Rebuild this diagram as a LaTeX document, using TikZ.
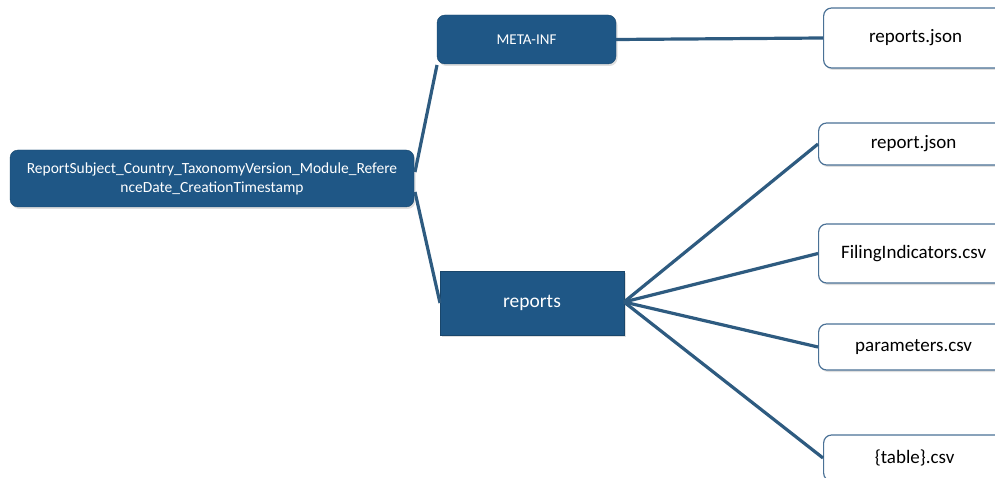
\documentclass[tikz,border=0pt]{standalone}
\usepackage{fontspec}
\setmainfont{Carlito}
\usetikzlibrary{shadows}
\definecolor{boxblue}{HTML}{1F5786}
\definecolor{edgeblue}{HTML}{2E5B80}
\definecolor{outline}{HTML}{4A7196}
\begin{document}
\begin{tikzpicture}[x=1pt,y=-1pt,
  darkbox/.style={fill=boxblue,draw=boxblue!80!black,line width=0.4pt,text=white,inner sep=0pt,
    drop shadow={shadow xshift=1.5pt,shadow yshift=-2pt,opacity=0.25}},
  filebox/.style={fill=white,draw=outline,line width=1.2pt,rounded corners=8pt,inner sep=0pt,
    minimum width=190pt,anchor=west,font=\fontsize{19}{22}\selectfont,
    drop shadow={shadow xshift=1.5pt,shadow yshift=-2pt,opacity=0.25}},
  link/.style={draw=edgeblue,line width=3.2pt}]
\useasboundingbox (0,0) rectangle (995,478);
\clip (0,0) rectangle (995,478);
% dark boxes
\node[darkbox,rounded corners=8pt,minimum width=404pt,minimum height=57pt,align=center,
  font=\fontsize{15.5}{19}\selectfont] (root) at (212,178.5)
  {ReportSubject\_Country\_TaxonomyVersion\_Module\_Refere\\nceDate\_CreationTimestamp};
\node[darkbox,rounded corners=8pt,minimum width=179pt,minimum height=49pt,
  font=\fontsize{15}{17}\selectfont] (meta) at (526.5,39.5) {META-INF};
\node[darkbox,minimum width=184pt,minimum height=64pt,
  font=\fontsize{19.5}{22}\selectfont] (reports) at (532,303) {reports};
% file boxes (extend past right edge)
\node[filebox,minimum height=60pt] (rj) at (823,38) {\hspace*{-6pt}reports.json};
\node[filebox,minimum height=42pt] (rpj) at (818,144) {report.json};
\node[filebox,minimum height=59pt] (fi) at (818,253.5) {FilingIndicators.csv};
\node[filebox,minimum height=46pt] (par) at (818,347) {parameters.csv};
\node[filebox,minimum height=46pt] (tab) at (823,458) {\hspace*{-8pt}\{table\}.csv};
% connectors
\coordinate (rootA) at (415,172);
\coordinate (rootB) at (415,192);
\coordinate (metaBL) at (437,65);
\coordinate (repL) at (440,303);
\coordinate (repR) at (624,302);
\draw[link] (rootA) -- (metaBL);
\draw[link] (rootB) -- (repL);
\draw[link] (meta.east) -- (rj.west);
\draw[link] (repR) -- (rpj.west);
\draw[link] (repR) -- (fi.west);
\draw[link] (repR) -- (par.west);
\draw[link] (repR) -- (tab.west);
\end{tikzpicture}
\end{document}
